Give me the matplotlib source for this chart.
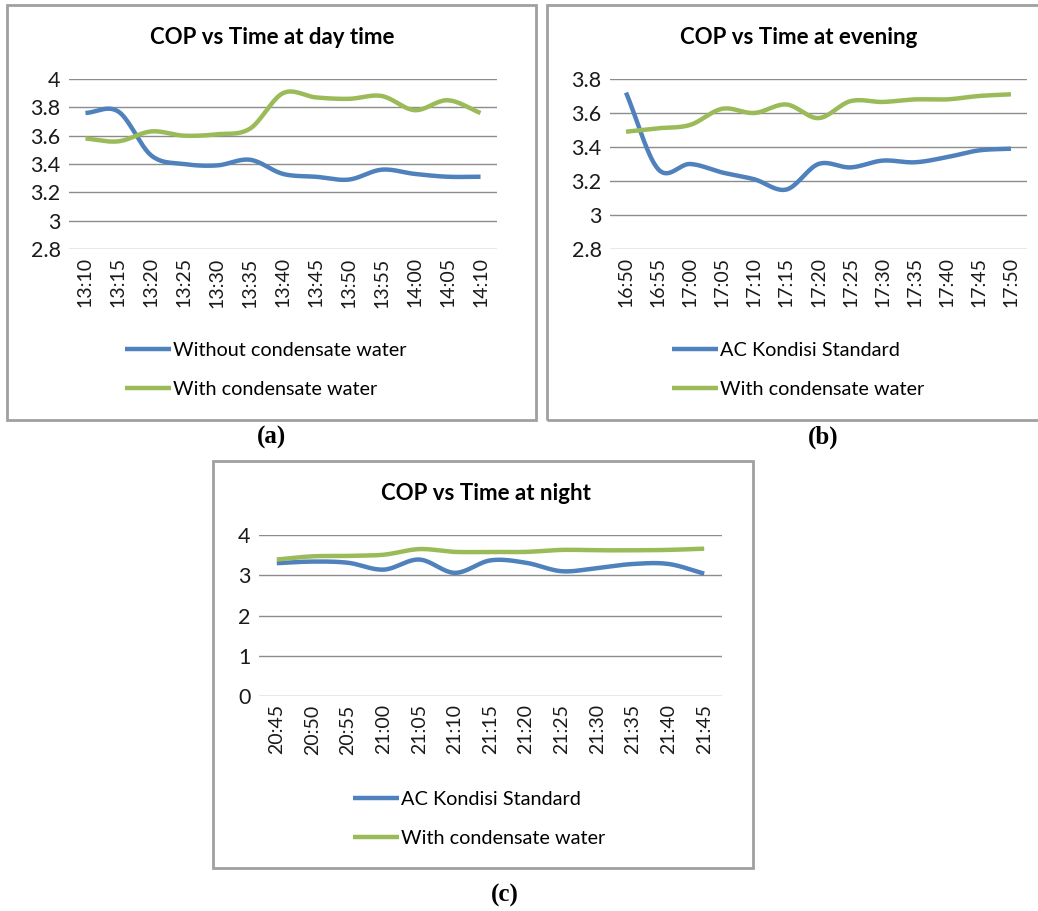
import numpy as np
import matplotlib
matplotlib.use("Agg")
import matplotlib.pyplot as plt
from matplotlib.patches import Rectangle

plt.rcParams['font.family'] = ['Lato', 'DejaVu Sans']

# datos
times_a = ['13:10', '13:15', '13:20', '13:25', '13:30', '13:35', '13:40',
           '13:45', '13:50', '13:55', '14:00', '14:05', '14:10']
without_a = [3.76, 3.77, 3.46, 3.40, 3.39, 3.43, 3.33, 3.31, 3.29, 3.36, 3.33, 3.31, 3.31]
with_a = [3.58, 3.56, 3.63, 3.60, 3.61, 3.65, 3.90, 3.87, 3.86, 3.88, 3.78, 3.85, 3.76]

times_b = ['16:50', '16:55', '17:00', '17:05', '17:10', '17:15', '17:20',
           '17:25', '17:30', '17:35', '17:40', '17:45', '17:50']
standard_b = [3.72, 3.27, 3.30, 3.25, 3.21, 3.15, 3.30, 3.28, 3.32, 3.31, 3.34, 3.38, 3.39]
with_b = [3.49, 3.51, 3.53, 3.625, 3.60, 3.65, 3.57, 3.67, 3.665, 3.68, 3.68, 3.70, 3.71]

times_c = ['20:45', '20:50', '20:55', '21:00', '21:05', '21:10', '21:15',
           '21:20', '21:25', '21:30', '21:35', '21:40', '21:45']
standard_c = [3.30, 3.34, 3.31, 3.14, 3.39, 3.06, 3.37, 3.31, 3.10, 3.18, 3.28, 3.28, 3.04]
with_c = [3.39, 3.47, 3.48, 3.51, 3.65, 3.58, 3.58, 3.58, 3.63, 3.62, 3.62, 3.63, 3.66]

BLUE = '#4F81BD'
GREEN = '#9BBB59'
W, H = 1038, 911


def smooth(y, n=20):
    # curva suave tipo excel (catmull-rom)
    y = np.asarray(y, dtype=float)
    x = np.arange(len(y), dtype=float)
    p = np.concatenate([[2 * y[0] - y[1]], y, [2 * y[-1] - y[-2]]])
    xs, ys = [], []
    for i in range(len(y) - 1):
        t = np.linspace(0, 1, n, endpoint=False)
        p0, p1, p2, p3 = p[i], p[i + 1], p[i + 2], p[i + 3]
        yy = 0.5 * ((2 * p1) + (-p0 + p2) * t + (2 * p0 - 5 * p1 + 4 * p2 - p3) * t ** 2
                    + (-p0 + 3 * p1 - 3 * p2 + p3) * t ** 3)
        xs.append(x[i] + t)
        ys.append(yy)
    xs.append([x[-1]])
    ys.append([y[-1]])
    return np.concatenate(xs), np.concatenate(ys)


def px_axes(fig, left, right, top, bottom):
    return fig.add_axes([left / W, 1 - bottom / H, (right - left) / W, (bottom - top) / H])


fig = plt.figure(figsize=(W / 100, H / 100), dpi=100)

# marcos grises
for (l, t, r, b) in [(7, 5, 536, 420), (547, 5, 1045, 420), (213, 461, 753, 868)]:
    fig.add_artist(Rectangle((l / W, 1 - b / H), (r - l) / W, (b - t) / H,
                             transform=fig.transFigure, fill=False,
                             edgecolor='#A0A0A0', linewidth=2))

panels = [
    dict(box=(69, 497, 79, 249), times=times_a, s1=without_a, s2=with_a,
         l1='Without condensate water', ylim=(2.8, 4.0), yt=np.arange(2.8, 4.01, 0.2),
         title='COP vs Time at day time', title_x=272, title_y=37,
         leg=(125, 370), lab='(a)', lab_x=272, lab_y=437),
    dict(box=(610, 1027, 79, 249), times=times_b, s1=standard_b, s2=with_b,
         l1='AC Kondisi Standard', ylim=(2.8, 3.8), yt=np.arange(2.8, 3.81, 0.2),
         title='COP vs Time at evening', title_x=799, title_y=37,
         leg=(672, 370), lab='(b)', lab_x=823, lab_y=437),
    dict(box=(259, 722, 535, 696), times=times_c, s1=standard_c, s2=with_c,
         l1='AC Kondisi Standard', ylim=(0, 4), yt=np.arange(0, 4.01, 1),
         title='COP vs Time at night', title_x=486, title_y=493,
         leg=(353, 819), lab='(c)', lab_x=505, lab_y=895),
]

for p in panels:
    l, r, t, b = p['box']
    ax = px_axes(fig, l, r, t, b)
    x1, y1 = smooth(p['s1'])
    x2, y2 = smooth(p['s2'])
    ax.plot(x1, y1, color=BLUE, lw=3.2, label=p['l1'], solid_capstyle='butt')
    ax.plot(x2, y2, color=GREEN, lw=3.2, label='With condensate water', solid_capstyle='butt')
    ax.set_xlim(-0.5, len(p['times']) - 0.5)
    ax.set_ylim(*p['ylim'])
    ax.set_yticks(p['yt'])
    ax.set_yticklabels([f'{v:g}' for v in np.round(p['yt'], 1)], fontsize=15.5, color='#1a1a1a')
    ax.set_xticks(range(len(p['times'])))
    ax.set_xticklabels(p['times'], rotation=90, fontsize=14, color='#1a1a1a')
    ax.tick_params(length=0, pad=6)
    ax.grid(axis='y', color='#8C8C8C', lw=1)
    ax.set_axisbelow(True)
    for s in ax.spines.values():
        s.set_visible(False)
    fig.text(p['title_x'] / W, 1 - p['title_y'] / H, p['title'], ha='center', va='center',
             fontsize=16, fontweight='bold')
    lx, ly = p['leg']
    ax.legend(loc='center left', bbox_to_anchor=(lx / W, 1 - ly / H),
              bbox_transform=fig.transFigure, frameon=False, fontsize=14.3,
              handlelength=2.3, handletextpad=0.1, labelspacing=1.15,
              borderpad=0, borderaxespad=0)
    fig.text(p['lab_x'] / W, 1 - p['lab_y'] / H, p['lab'], ha='center', va='center',
             fontsize=18, fontweight='bold', family='Liberation Serif')

fig.savefig('out.png', dpi=100)
